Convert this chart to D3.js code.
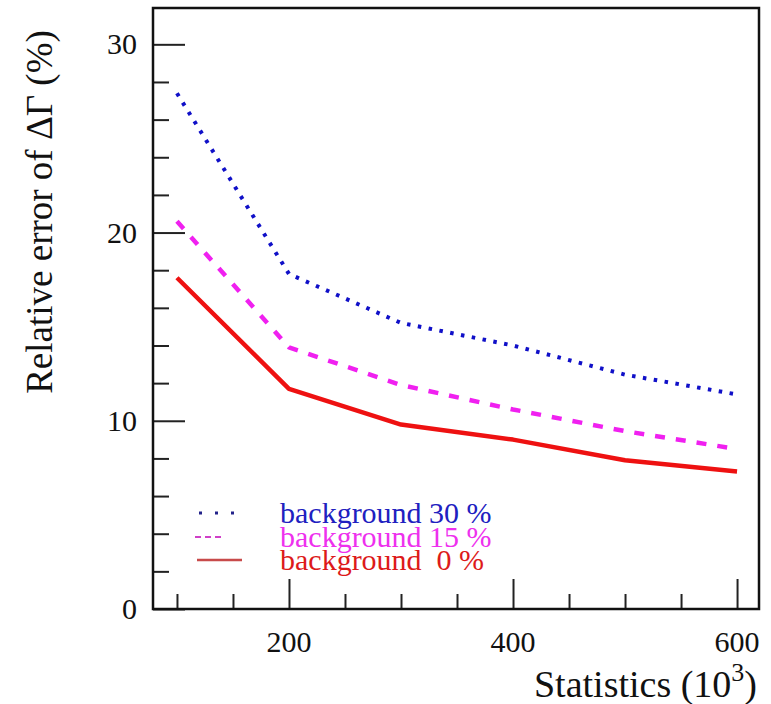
<!DOCTYPE html>
<html>
<head>
<meta charset="utf-8">
<script src="https://cdn.jsdelivr.net/npm/d3@7"></script>
<style>
  html, body { margin: 0; padding: 0; background: #fff; }
  svg { display: block; }
  text { font-family: "Liberation Serif", "DejaVu Serif", serif; }
</style>
</head>
<body>
<svg id="chart" width="771" height="704"></svg>
<script>
// Statistics in units of 10^3 events
const stats = [100, 200, 300, 400, 500, 600];
// Relative error of ΔΓ (%) for each background fraction
const bg30 = [27.4, 17.8, 15.2, 14.0, 12.45, 11.4];
const bg15 = [20.6, 13.9, 11.9, 10.6, 9.45, 8.5];
const bg0  = [17.6, 11.7, 9.8, 9.0, 7.9, 7.3];

const xMajor = [200, 400, 600];
const xMinor = [100, 150, 250, 300, 350, 450, 500, 550];
const yMajor = [0, 10, 20, 30];
const yMinor = [2, 4, 6, 8, 12, 14, 16, 18, 22, 24, 26, 28];

const legendLabels = ["background 30 %", "background 15 %", "background  0 %"];

const frame = { left: 153, right: 759, top: 8, bottom: 609 };

const x = d3.scaleLinear().domain([78.6, 619.6]).range([frame.left, frame.right]);
const y = d3.scaleLinear().domain([0, 31.93]).range([frame.bottom, frame.top]);

const svg = d3.select("#chart");

// inward ticks on the bottom axis
svg.append("g")
  .attr("transform", `translate(0,${frame.bottom})`)
  .call(d3.axisTop(x).tickValues(xMajor).tickSize(30).tickFormat(""))
  .call(g => g.select(".domain").remove())
  .call(g => g.selectAll("line").attr("stroke", "#222").attr("stroke-width", 2));
svg.append("g")
  .attr("transform", `translate(0,${frame.bottom})`)
  .call(d3.axisTop(x).tickValues(xMinor).tickSize(15).tickFormat(""))
  .call(g => g.select(".domain").remove())
  .call(g => g.selectAll("line").attr("stroke", "#222").attr("stroke-width", 2));

// inward ticks on the left axis
svg.append("g")
  .attr("transform", `translate(${frame.left},0)`)
  .call(d3.axisRight(y).tickValues(yMajor).tickSize(32).tickFormat(""))
  .call(g => g.select(".domain").remove())
  .call(g => g.selectAll("line").attr("stroke", "#222").attr("stroke-width", 2));
svg.append("g")
  .attr("transform", `translate(${frame.left},0)`)
  .call(d3.axisRight(y).tickValues(yMinor).tickSize(16).tickFormat(""))
  .call(g => g.select(".domain").remove())
  .call(g => g.selectAll("line").attr("stroke", "#222").attr("stroke-width", 2));

// tick labels
svg.append("g").selectAll("text").data(xMajor).join("text")
  .attr("x", d => x(d)).attr("y", 652)
  .attr("text-anchor", "middle")
  .attr("font-size", 30).attr("fill", "#111")
  .text(d => d);
svg.append("g").selectAll("text").data(yMajor).join("text")
  .attr("x", 137).attr("y", d => y(d) + 10)
  .attr("text-anchor", "end")
  .attr("font-size", 30).attr("fill", "#111")
  .text(d => d);

// frame
svg.append("rect")
  .attr("x", frame.left).attr("y", frame.top)
  .attr("width", frame.right - frame.left).attr("height", frame.bottom - frame.top)
  .attr("fill", "none").attr("stroke", "#111").attr("stroke-width", 2.5);

// curves
const line = d3.line().x((d, i) => x(stats[i])).y(d => y(d));
const series = [
  { values: bg30, color: "#1010c8", width: 4, dash: "3.5 7.5" },
  { values: bg15, color: "#f020f0", width: 4.5, dash: "10 11" },
  { values: bg0,  color: "#ee1111", width: 4.5, dash: null }
];
svg.append("g").selectAll("path").data(series).join("path")
  .attr("d", d => line(d.values))
  .attr("fill", "none")
  .attr("stroke", d => d.color)
  .attr("stroke-width", d => d.width)
  .attr("stroke-dasharray", d => d.dash)
  .attr("stroke-linejoin", "round");

// legend
const legend = svg.append("g");
const legendRows = [513, 537, 560];
legend.append("line")
  .attr("x1", 199).attr("x2", 237).attr("y1", legendRows[0]).attr("y2", legendRows[0])
  .attr("stroke", "#22228a").attr("stroke-width", 3).attr("stroke-dasharray", "3 13");
legend.append("line")
  .attr("x1", 195).attr("x2", 225).attr("y1", legendRows[1]).attr("y2", legendRows[1])
  .attr("stroke", "#d040c8").attr("stroke-width", 2).attr("stroke-dasharray", "6 4");
legend.append("line")
  .attr("x1", 197).attr("x2", 242).attr("y1", legendRows[2]).attr("y2", legendRows[2])
  .attr("stroke", "#c84a4a").attr("stroke-width", 2.5);
legend.selectAll("text").data(legendLabels).join("text")
  .attr("x", 280).attr("y", (d, i) => legendRows[i] + 10)
  .attr("font-size", 30)
  .attr("fill", (d, i) => ["#2020c0", "#ee30ee", "#dd1a1a"][i])
  .style("white-space", "pre")
  .text(d => d);

// axis titles
const xt = svg.append("text")
  .attr("x", 757).attr("y", 697)
  .attr("text-anchor", "end")
  .attr("font-size", 38).attr("fill", "#111");
xt.append("tspan").text("Statistics (10");
xt.append("tspan").attr("dy", -16).attr("font-size", 26).text("3");
xt.append("tspan").attr("dy", 16).text(")");

svg.append("text")
  .attr("transform", "translate(52,212) rotate(-90)")
  .attr("text-anchor", "middle")
  .attr("font-size", 37).attr("fill", "#111")
  .text("Relative error of ΔΓ (%)");
</script>
</body>
</html>
